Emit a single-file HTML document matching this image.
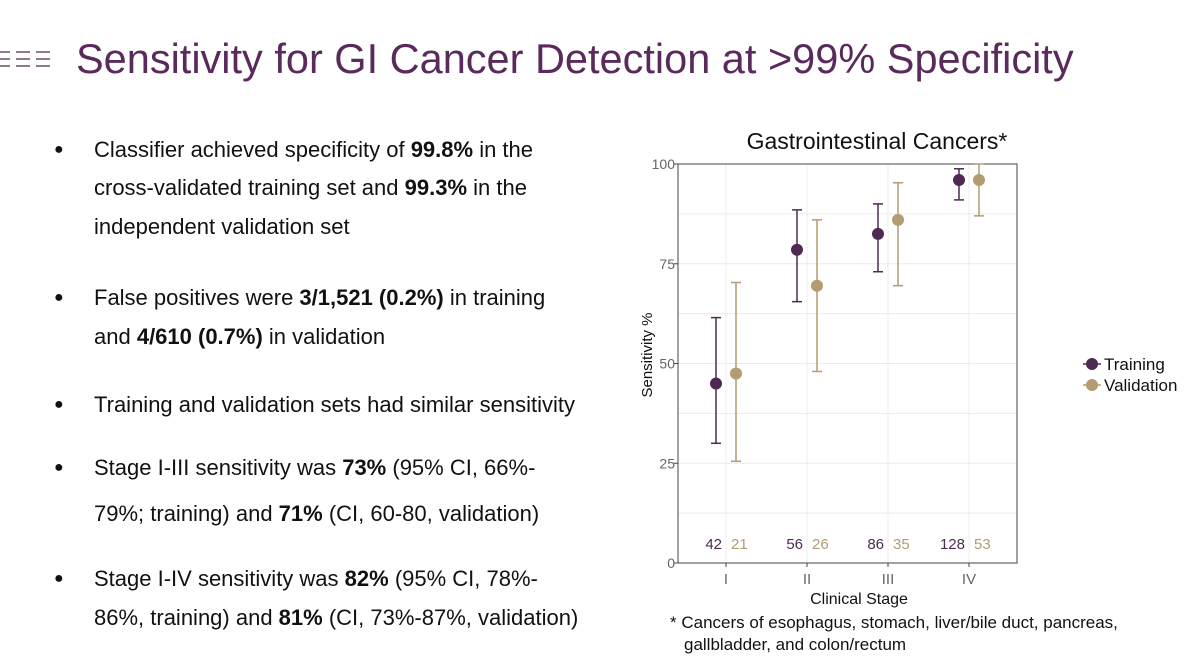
<!DOCTYPE html>
<html><head><meta charset="utf-8"><style>
body{margin:0;width:1200px;height:664px;background:#fff;font-family:"Liberation Sans",sans-serif;position:relative;overflow:hidden}
.h{position:absolute;left:76px;top:35px;font-size:41.5px;color:#5a2a5c;white-space:nowrap}
.ic{position:absolute;left:0;top:49px}
.b{position:absolute;left:94px;font-size:22px;color:#111;white-space:nowrap}
.d{position:absolute;left:54px;font-size:16px;color:#111;margin-top:3px}
</style></head><body>
<div class="ic"><svg width="50" height="24">
<g stroke="#6a4a6c" stroke-width="1.5"><line x1="0" y1="3" x2="10" y2="3"/><line x1="0" y1="10" x2="10" y2="10"/><line x1="0" y1="17" x2="10" y2="17"/><line x1="16" y1="3" x2="30" y2="3"/><line x1="16" y1="10" x2="30" y2="10"/><line x1="16" y1="17" x2="30" y2="17"/><line x1="36" y1="3" x2="50" y2="3"/><line x1="36" y1="10" x2="50" y2="10"/><line x1="36" y1="17" x2="50" y2="17"/></g></svg></div>
<div class="h">Sensitivity for GI Cancer Detection at &gt;99% Specificity</div>
<div>
<div class="d" style="top:138px">●</div><div class="b" style="top:137px">Classifier achieved specificity of <b>99.8%</b> in the</div>
<div class="b" style="top:175px">cross-validated training set and <b>99.3%</b> in the</div>
<div class="b" style="top:214px">independent validation set</div>
<div class="d" style="top:286px">●</div><div class="b" style="top:285px">False positives were <b>3/1,521 (0.2%)</b> in training</div>
<div class="b" style="top:324px">and <b>4/610 (0.7%)</b> in validation</div>
<div class="d" style="top:393px">●</div><div class="b" style="top:392px">Training and validation sets had similar sensitivity</div>
<div class="d" style="top:456px">●</div><div class="b" style="top:455px">Stage I-III sensitivity was <b>73%</b> (95% CI, 66%-</div>
<div class="b" style="top:501px">79%; training) and <b>71%</b> (CI, 60-80, validation)</div>
<div class="d" style="top:567px">●</div><div class="b" style="top:566px">Stage I-IV sensitivity was <b>82%</b> (95% CI, 78%-</div>
<div class="b" style="top:605px">86%, training) and <b>81%</b> (CI, 73%-87%, validation)</div>
</div>
<svg id="c" width="1200" height="664" style="position:absolute;left:0;top:0"></svg>
<script>
const stages=["I","II","III","IV"];
const trainVal=[45,78.5,82.5,96];
const trainLo=[30,65.5,73,91];
const trainHi=[61.5,88.5,90,98.8];
const validVal=[47.5,69.5,86,96];
const validLo=[25.5,48,69.5,87];
const validHi=[70.3,86,95.3,100];
const trainN=[42,56,86,128];
const validN=[21,26,35,53];
const yTicks=[0,25,50,75,100];
const PURP="#4e2a52",TAN="#b39b72";
const X0=678,X1=1017,Y0=563,Y1=164;
const y=v=>Y0-(v/100)*(Y0-Y1);
const x=i=>726+i*81;
const svg=document.getElementById('c');
function mk(t,a,txt){const e=document.createElementNS("http://www.w3.org/2000/svg",t);for(const k in a)e.setAttribute(k,a[k]);if(txt!=null)e.textContent=txt;svg.appendChild(e);return e;}
let e;
e=mk("text",{x:877,y:149,"font-size":23,"text-anchor":"middle",fill:"#111","font-family":"Liberation Sans"},"Gastrointestinal Cancers*");

for(let v=0;v<=100;v+=12.5){e=mk("line",{x1:X0,x2:X1,y1:y(v),y2:y(v),stroke:"#ececec","stroke-width":1});}
stages.forEach((s,i)=>{e=mk("line",{x1:x(i),x2:x(i),y1:Y1,y2:Y0,stroke:"#ececec"});});
e=mk("rect",{x:X0,y:Y1,width:X1-X0,height:Y0-Y1,fill:"none",stroke:"#444","stroke-width":1});
yTicks.forEach(v=>{e=mk("line",{x1:X0-4,x2:X0,y1:y(v),y2:y(v),stroke:"#444"});
e=mk("text",{x:X0-3,y:y(v)+5,"font-size":14,"text-anchor":"end",fill:"#666"},v);});
stages.forEach((s,i)=>{e=mk("line",{x1:x(i),x2:x(i),y1:Y0,y2:Y0+4,stroke:"#444"});
e=mk("text",{x:x(i),y:Y0+21,"font-size":15,"text-anchor":"middle",fill:"#666"},s);});
e=mk("text",{x:859,y:604,"font-size":16,"text-anchor":"middle",fill:"#111"},"Clinical Stage");
e=mk("text",{x:652,y:355,"font-size":15,"text-anchor":"middle",fill:"#111",transform:"rotate(-90 652 355)"},"Sensitivity %");
function series(vals,lo,hi,n,col,off,name){vals.forEach((v,i)=>{const cx=x(i)+off;
e=mk("line",{x1:cx,x2:cx,y1:y(lo[i]),y2:y(hi[i]),stroke:col,"stroke-width":1.5});
[lo[i],hi[i]].forEach(b=>{e=mk("line",{x1:cx-5,x2:cx+5,y1:y(b),y2:y(b),stroke:col,"stroke-width":1.5});});
e=mk("circle",{cx:cx,cy:y(v),r:6,fill:col});
e=mk("text",{x:cx+(off<0?6:-5),y:549,"font-size":15,"text-anchor":off<0?"end":"start",fill:col},n[i]);});}
series(trainVal,trainLo,trainHi,trainN,PURP,-10,'training');
series(validVal,validLo,validHi,validN,TAN,10,'validation');
[["Training",PURP,364],["Validation",TAN,385]].forEach(([t,c,yy])=>{
e=mk("line",{x1:1083,x2:1101,y1:yy,y2:yy,stroke:c,"stroke-width":1.5});
e=mk("circle",{cx:1092,cy:yy,r:6,fill:c});
e=mk("text",{x:1104,y:yy+6,"font-size":17,fill:"#111"},t);});
e=mk("text",{x:670,y:628,"font-size":17,fill:"#111"},"* Cancers of esophagus, stomach, liver/bile duct, pancreas,");
e=mk("text",{x:684,y:650,"font-size":17,fill:"#111"},"gallbladder, and colon/rectum");
</script>
</body></html>
